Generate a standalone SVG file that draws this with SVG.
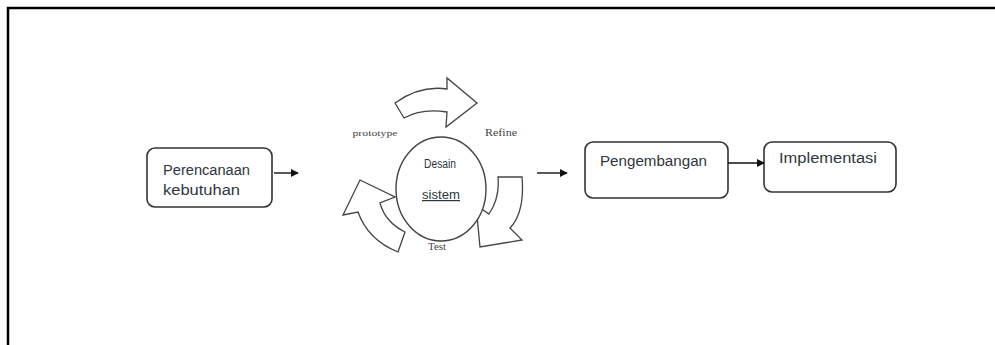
<svg xmlns="http://www.w3.org/2000/svg" width="995" height="345" viewBox="0 0 995 345">
<defs>
<marker id="ah" viewBox="0 0 10 10" refX="9" refY="5" markerWidth="8" markerHeight="8" markerUnits="userSpaceOnUse" orient="auto">
<path d="M0,0 L10,5 L0,10 Z" fill="#111"/>
</marker>
<style>
.box{fill:#fff;stroke:#333;stroke-width:1.6}
.lbl{font-family:"Liberation Sans",Arial,sans-serif;font-size:14px;fill:#2e3640}
.small{font-family:"Liberation Serif","Times New Roman",serif;fill:#444}
.blk{fill:#fff;stroke:#444;stroke-width:1.3;stroke-linejoin:miter}
.conn{stroke:#111;stroke-width:1.4;fill:none}
</style>
</defs>
<rect width="995" height="345" fill="#fff"/>
<path d="M8,345 L8,8 L995,8" fill="none" stroke="#000" stroke-width="2.5"/>

<g id="perencanaan">
<rect class="box" x="147" y="148" width="125" height="59" rx="8"/>
<text class="lbl" x="163" y="175" textLength="87" lengthAdjust="spacingAndGlyphs">Perencanaan</text>
<text class="lbl" x="163" y="195" textLength="77" lengthAdjust="spacingAndGlyphs">kebutuhan</text>
</g>

<g id="desain">
<path class="blk" d="M395,103 Q420,85 447,89 L447,78 L477,103 L446,127 L447,112 Q422,108 404,118 Z"/>
<path class="blk" d="M498,177 L522,177 Q525,212 510,228 L522,240 L480,247 L476,205 L489,214 Q500,198 498,177 Z"/>
<path class="blk" d="M405,232 Q385,222 380,203 L395,197 L360,180 L343,215 L358,212 Q368,240 398,252 Z"/>
<ellipse cx="441" cy="189" rx="45" ry="52" fill="#fff" stroke="#444" stroke-width="1.4"/>
<text class="lbl" x="440" y="168" font-size="12" text-anchor="middle" textLength="32" lengthAdjust="spacingAndGlyphs" style="font-size:12px">Desain</text>
<text class="lbl" x="441" y="199" text-anchor="middle" textLength="38" lengthAdjust="spacingAndGlyphs" style="font-size:12px" text-decoration="underline">sistem</text>
<text class="small" x="375" y="136" text-anchor="middle" textLength="45" lengthAdjust="spacingAndGlyphs" style="font-size:9px">prototype</text>
<text class="small" x="501" y="136" text-anchor="middle" textLength="32" lengthAdjust="spacingAndGlyphs" style="font-size:10px">Refine</text>
<text class="small" x="437" y="250" text-anchor="middle" textLength="18" lengthAdjust="spacingAndGlyphs" style="font-size:11px">Test</text>
</g>

<g id="pengembangan">
<rect class="box" x="585" y="142" width="143" height="56" rx="8"/>
<text class="lbl" x="600" y="166" textLength="107" lengthAdjust="spacingAndGlyphs">Pengembangan</text>
</g>

<g id="implementasi">
<rect class="box" x="764" y="142" width="132" height="50" rx="8"/>
<text class="lbl" x="779" y="163" textLength="98" lengthAdjust="spacingAndGlyphs">Implementasi</text>
</g>

<g id="connectors">
<line class="conn" x1="274" y1="173" x2="298" y2="173" marker-end="url(#ah)"/>
<line class="conn" x1="537" y1="173" x2="567" y2="173" marker-end="url(#ah)"/>
<line class="conn" x1="728" y1="163" x2="764" y2="163" marker-end="url(#ah)"/>
</g>
</svg>
